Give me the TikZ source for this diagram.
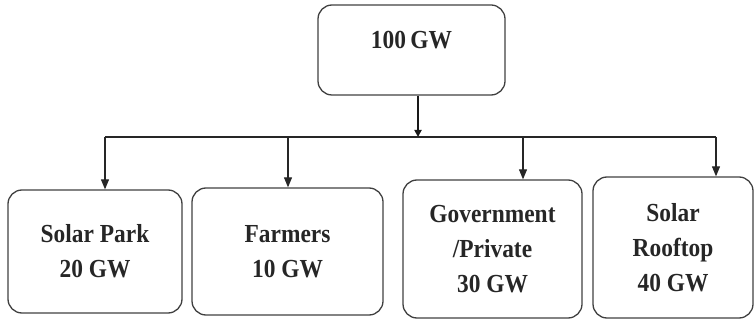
\documentclass[tikz,border=0pt]{standalone}
\usepackage{fontspec}
\setmainfont{Liberation Serif}[FakeStretch=0.9]
\usetikzlibrary{arrows.meta}

\tikzset{
  gwbox/.style={draw=black!75, line width=1.3pt, rounded corners=14pt, align=center,
    font=\fontsize{26}{35}\selectfont\bfseries, text=black!85, inner sep=0pt},
  feed/.style={-{Triangle[length=10pt,width=8pt]}, line width=1.1pt, draw=black!85}
}

\begin{document}
\begin{tikzpicture}[x=1pt,y=-1pt]
\useasboundingbox (0,0) rectangle (754,320);
\node[gwbox, minimum width=187pt, minimum height=90pt, text depth=20pt] (total) at (411.5,50) {100\,GW};
\node[gwbox, minimum width=174pt, minimum height=123pt] (park) at (95,251.5) {Solar Park\\20 GW};
\node[gwbox, minimum width=191pt, minimum height=127pt] (farm) at (287.5,251.5) {Farmers\\10 GW};
\node[gwbox, minimum width=179pt, minimum height=138pt] (gov) at (492.5,249) {Government\\/Private\\30 GW};
\node[gwbox, minimum width=160pt, minimum height=141pt] (roof) at (673,247.5) {Solar\\Rooftop\\40 GW};
% bus line
\coordinate (jt) at (418,137);
\coordinate (j1) at (105,137);
\coordinate (j2) at (288,137);
\coordinate (j3) at (523,137);
\coordinate (j4) at (716,137);
\draw[line width=1.1pt, black!85] (j1) -- (j4);
\draw[-{Triangle[length=7pt,width=7pt]}, line width=2.8pt, black!90] (jt |- total.south) -- (jt);
\draw[feed] (j1) -- (j1 |- park.north);
\draw[feed] (j2) -- (j2 |- farm.north);
\draw[feed] (j3) -- (j3 |- gov.north);
\draw[feed] (j4) -- (j4 |- roof.north);
\end{tikzpicture}
\end{document}
